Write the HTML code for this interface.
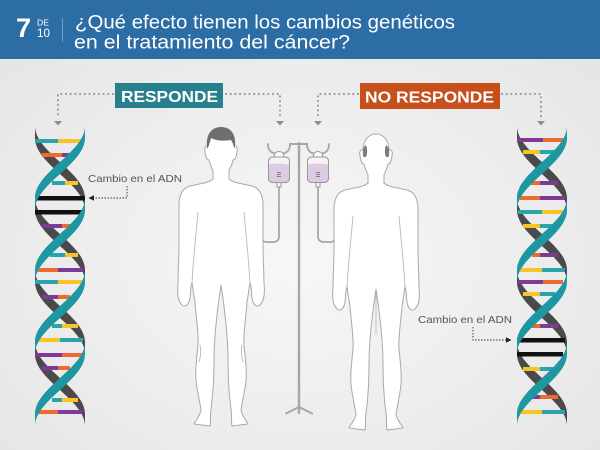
<!DOCTYPE html>
<html>
<head>
<meta charset="utf-8">
<style>
html,body{margin:0;padding:0;width:600px;height:450px;overflow:hidden;background:#ececec}
svg{display:block}
</style>
</head>
<body>
<svg width="600" height="450" viewBox="0 0 600 450">
  <defs>
    <radialGradient id="bg" cx="50%" cy="58%" r="65%">
      <stop offset="0" stop-color="#f7f7f7"/>
      <stop offset="1" stop-color="#e6e6e6"/>
    </radialGradient>
  </defs>

  <!-- background -->
  <rect x="0" y="0" width="600" height="450" fill="url(#bg)"/>

  <!-- header -->
  <rect x="0" y="0" width="600" height="59" fill="#2c6da6"/>
  <text x="16" y="37" font-family="Liberation Sans, sans-serif" font-weight="bold" font-size="27" fill="#fff">7</text>
  <text x="37" y="25.5" font-family="Liberation Sans, sans-serif" font-size="8.5" fill="#fff" textLength="12" lengthAdjust="spacingAndGlyphs">DE</text>
  <text x="37" y="37" font-family="Liberation Sans, sans-serif" font-size="12" fill="#fff" textLength="13" lengthAdjust="spacingAndGlyphs">10</text>
  <line x1="62.5" y1="18" x2="62.5" y2="42" stroke="#6f9dc8" stroke-width="1"/>
  <text x="75" y="28.3" font-family="Liberation Sans, sans-serif" font-size="19" fill="#fff" textLength="380" lengthAdjust="spacingAndGlyphs">¿Qué efecto tienen los cambios genéticos</text>
  <text x="74" y="48.3" font-family="Liberation Sans, sans-serif" font-size="19" fill="#fff" textLength="276" lengthAdjust="spacingAndGlyphs">en el tratamiento del cáncer?</text>

  <!-- labels -->
  <rect x="115" y="83" width="108" height="25" fill="#28808e"/>
  <text x="121" y="102" font-family="Liberation Sans, sans-serif" font-weight="bold" font-size="16" fill="#fff" textLength="97" lengthAdjust="spacingAndGlyphs">RESPONDE</text>
  <rect x="360" y="83" width="140" height="26" fill="#c6501b"/>
  <text x="365" y="102.3" font-family="Liberation Sans, sans-serif" font-weight="bold" font-size="16" fill="#fff" textLength="129" lengthAdjust="spacingAndGlyphs">NO RESPONDE</text>

  <!-- dotted connectors -->
  <g fill="none" stroke="#9c9c9c" stroke-width="2.2" stroke-linecap="round" stroke-dasharray="0 4.7">
    <path d="M113 94 L58 94 L58 118"/>
    <path d="M226 94 L280 94 L280 118"/>
    <path d="M358 94 L318 94 L318 118"/>
    <path d="M502 94 L541 94 L541 118"/>
  </g>
  <g fill="#8e8e8e">
    <polygon points="54,121 62,121 58,125.5"/>
    <polygon points="276,121 284,121 280,125.5"/>
    <polygon points="314,121 322,121 318,125.5"/>
    <polygon points="537,121 545,121 541,125.5"/>
  </g>

  <!-- LEFT DNA -->
  <g transform="translate(60,0)">
    <g fill="#4a4a4c">
      <path transform="translate(0,132)" d="M-25 -6 C-25 20.2 25 39.8 25 66 L25 78 C25 51.8 -25 32.2 -25 6 Z"/>
      <path transform="translate(0,204)" d="M-25 -6 C-25 20.2 25 39.8 25 66 L25 78 C25 51.8 -25 32.2 -25 6 Z"/>
      <path transform="translate(0,276)" d="M-25 -6 C-25 20.2 25 39.8 25 66 L25 78 C25 51.8 -25 32.2 -25 6 Z"/>
      <path transform="translate(0,348)" d="M-25 -6 C-25 20.2 25 39.8 25 66 L25 78 C25 51.8 -25 32.2 -25 6 Z"/>
    </g>
    <g>
      <rect x="-25" y="139" width="23" height="4" fill="#2ba3ac"/><rect x="-2" y="139" width="24" height="4" fill="#f7c325"/>
      <rect x="-18" y="153" width="20" height="4" fill="#ef6a2e"/><rect x="2" y="153" width="8" height="4" fill="#7d3b96"/>
      <rect x="-8" y="181" width="13" height="4" fill="#2ba3ac"/><rect x="5" y="181" width="13" height="4" fill="#f7c325"/>
      <rect x="-23" y="196" width="48" height="4.5" fill="#111"/>
      <rect x="-25" y="210" width="47" height="4.5" fill="#111"/>
      <rect x="-18" y="224" width="20" height="4" fill="#7d3b96"/><rect x="2" y="224" width="10" height="4" fill="#ef6a2e"/>
      <rect x="-10" y="253" width="15" height="4" fill="#2ba3ac"/><rect x="5" y="253" width="13" height="4" fill="#f7c325"/>
      <rect x="-22" y="268" width="20" height="4" fill="#ef6a2e"/><rect x="-2" y="268" width="25" height="4" fill="#7d3b96"/>
      <rect x="-25" y="280" width="23" height="4" fill="#2ba3ac"/><rect x="-2" y="280" width="24" height="4" fill="#f7c325"/>
      <rect x="-18" y="295" width="16" height="4" fill="#7d3b96"/><rect x="-2" y="295" width="12" height="4" fill="#ef6a2e"/>
      <rect x="-8" y="324" width="10" height="4" fill="#2ba3ac"/><rect x="2" y="324" width="16" height="4" fill="#f7c325"/>
      <rect x="-22" y="338" width="22" height="4" fill="#f7c325"/><rect x="0" y="338" width="23" height="4" fill="#2ba3ac"/>
      <rect x="-25" y="353" width="27" height="4" fill="#7d3b96"/><rect x="2" y="353" width="21" height="4" fill="#ef6a2e"/>
      <rect x="-18" y="366" width="16" height="4" fill="#7d3b96"/><rect x="-2" y="366" width="12" height="4" fill="#ef6a2e"/>
      <rect x="-8" y="398" width="10" height="4" fill="#2ba3ac"/><rect x="2" y="398" width="16" height="4" fill="#f7c325"/>
      <rect x="-22" y="410" width="20" height="4" fill="#ef6a2e"/><rect x="-2" y="410" width="25" height="4" fill="#7d3b96"/>
    </g>
    <g fill="#1f97a2">
      <path transform="translate(0,132)" d="M25 -6 C25 20.2 -25 39.8 -25 66 L-25 78 C-25 51.8 25 32.2 25 6 Z"/>
      <path transform="translate(0,204)" d="M25 -6 C25 20.2 -25 39.8 -25 66 L-25 78 C-25 51.8 25 32.2 25 6 Z"/>
      <path transform="translate(0,276)" d="M25 -6 C25 20.2 -25 39.8 -25 66 L-25 78 C-25 51.8 25 32.2 25 6 Z"/>
      <path transform="translate(0,348)" d="M25 -6 C25 20.2 -25 39.8 -25 66 L-25 78 C-25 51.8 25 32.2 25 6 Z"/>
    </g>
  </g>

  <!-- RIGHT DNA -->
  <g transform="translate(542,0)">
    <g fill="#4a4a4c">
      <path transform="translate(0,132)" d="M-25 -6 C-25 20.2 25 39.8 25 66 L25 78 C25 51.8 -25 32.2 -25 6 Z"/>
      <path transform="translate(0,204)" d="M-25 -6 C-25 20.2 25 39.8 25 66 L25 78 C25 51.8 -25 32.2 -25 6 Z"/>
      <path transform="translate(0,276)" d="M-25 -6 C-25 20.2 25 39.8 25 66 L25 78 C25 51.8 -25 32.2 -25 6 Z"/>
      <path transform="translate(0,348)" d="M-25 -6 C-25 20.2 25 39.8 25 66 L25 78 C25 51.8 -25 32.2 -25 6 Z"/>
    </g>
    <g>
      <rect x="-25" y="138" width="26" height="4" fill="#7d3b96"/><rect x="1" y="138" width="20" height="4" fill="#ef6a2e"/>
      <rect x="-19" y="150" width="17" height="4" fill="#f7c325"/><rect x="-2" y="150" width="15" height="4" fill="#2ba3ac"/>
      <rect x="-12" y="181" width="10" height="4" fill="#ef6a2e"/><rect x="-2" y="181" width="18" height="4" fill="#7d3b96"/>
      <rect x="-22" y="196" width="20" height="4" fill="#ef6a2e"/><rect x="-2" y="196" width="25" height="4" fill="#7d3b96"/>
      <rect x="-24" y="210" width="24" height="4" fill="#2ba3ac"/><rect x="0" y="210" width="21" height="4" fill="#f7c325"/>
      <rect x="-19" y="224" width="17" height="4" fill="#f7c325"/><rect x="-2" y="224" width="15" height="4" fill="#2ba3ac"/>
      <rect x="-10" y="253" width="8" height="4" fill="#ef6a2e"/><rect x="-2" y="253" width="18" height="4" fill="#7d3b96"/>
      <rect x="-22" y="268" width="22" height="4" fill="#f7c325"/><rect x="0" y="268" width="23" height="4" fill="#2ba3ac"/>
      <rect x="-24" y="280" width="25" height="4" fill="#7d3b96"/><rect x="1" y="280" width="20" height="4" fill="#ef6a2e"/>
      <rect x="-19" y="292" width="17" height="4" fill="#f7c325"/><rect x="-2" y="292" width="15" height="4" fill="#2ba3ac"/>
      <rect x="-12" y="324" width="10" height="4" fill="#ef6a2e"/><rect x="-2" y="324" width="18" height="4" fill="#7d3b96"/>
      <rect x="-25" y="338" width="48" height="4.5" fill="#111"/>
      <rect x="-25" y="352" width="46" height="4.5" fill="#111"/>
      <rect x="-19" y="367" width="17" height="4" fill="#f7c325"/><rect x="-2" y="367" width="15" height="4" fill="#2ba3ac"/>
      <rect x="-12" y="395" width="10" height="4" fill="#7d3b96"/><rect x="-2" y="395" width="18" height="4" fill="#ef6a2e"/>
      <rect x="-22" y="410" width="22" height="4" fill="#f7c325"/><rect x="0" y="410" width="23" height="4" fill="#2ba3ac"/>
    </g>
    <g fill="#1f97a2">
      <path transform="translate(0,132)" d="M25 -6 C25 20.2 -25 39.8 -25 66 L-25 78 C-25 51.8 25 32.2 25 6 Z"/>
      <path transform="translate(0,204)" d="M25 -6 C25 20.2 -25 39.8 -25 66 L-25 78 C-25 51.8 25 32.2 25 6 Z"/>
      <path transform="translate(0,276)" d="M25 -6 C25 20.2 -25 39.8 -25 66 L-25 78 C-25 51.8 25 32.2 25 6 Z"/>
      <path transform="translate(0,348)" d="M25 -6 C25 20.2 -25 39.8 -25 66 L-25 78 C-25 51.8 25 32.2 25 6 Z"/>
    </g>
  </g>

  <!-- "Cambio en el ADN" annotations -->
  <text x="88" y="182" font-family="Liberation Sans, sans-serif" font-size="10.5" fill="#555" textLength="94" lengthAdjust="spacingAndGlyphs">Cambio en el ADN</text>
  <path d="M127 186 L127 198 L93 198" fill="none" stroke="#333" stroke-width="0.9" stroke-dasharray="1.5 1.5"/>
  <polygon points="88.5,198 94,195.3 94,200.7" fill="#222"/>

  <text x="418" y="323" font-family="Liberation Sans, sans-serif" font-size="10.5" fill="#555" textLength="94" lengthAdjust="spacingAndGlyphs">Cambio en el ADN</text>
  <path d="M473 327 L473 340 L506 340" fill="none" stroke="#333" stroke-width="0.9" stroke-dasharray="1.5 1.5"/>
  <polygon points="511.5,340 506,337.3 506,342.7" fill="#222"/>

  <!-- IV stand -->
  <g fill="none" stroke="#a6a6a6" stroke-linecap="round">
    <line x1="299" y1="143" x2="299" y2="413" stroke-width="2.4"/>
    <path d="M286 413.5 L299 407 L312 413.5" stroke-width="2"/>
    <path d="M290 144 L307 144" stroke-width="2"/>
    <path d="M268 144 C268 152 273 154 279 154 C285 154 290 152 290 144" stroke-width="1.8"/>
    <path d="M307 144 C307 152 312 154 318 154 C324 154 329 152 329 144" stroke-width="1.8"/>
  </g>
  <!-- tubes -->
  <g fill="none" stroke="#9a9a9a" stroke-width="1.5">
    <path d="M279 187 L279 236 Q279 242 273 242 L266 242 Q263 242 262 238"/>
    <path d="M318 187 L318 236 Q318 242 324 242 L331 242 Q334 242 335 238"/>
  </g>
  <!-- bags -->
  <g stroke="#9a9a9a" stroke-width="1">
    <path d="M274 157 L275 153 Q279 150 283 153 L284 157 Z" fill="#fafafa"/>
    <rect x="268.5" y="157" width="21" height="25.5" rx="4" fill="#f6f3f7"/>
    <path d="M269 164.5 Q279 162.5 289 164.5 L289 179 Q289 182 286 182 L272 182 Q269 182 269 179 Z" fill="#dccbe3" stroke="none"/>
    <rect x="268.5" y="157" width="21" height="25.5" rx="4" fill="none"/>
    <rect x="277" y="182.5" width="4" height="4.5" fill="#f6f6f6"/>
    <path d="M313 157 L314 153 Q318 150 322 153 L323 157 Z" fill="#fafafa"/>
    <rect x="307.5" y="157" width="21" height="25.5" rx="4" fill="#f6f3f7"/>
    <path d="M308 164.5 Q318 162.5 328 164.5 L328 179 Q328 182 325 182 L311 182 Q308 182 308 179 Z" fill="#dccbe3" stroke="none"/>
    <rect x="307.5" y="157" width="21" height="25.5" rx="4" fill="none"/>
    <rect x="316" y="182.5" width="4" height="4.5" fill="#f6f6f6"/>
  </g>
  <g stroke="#6d6d6d" stroke-width="0.8">
    <line x1="277" y1="172.5" x2="281" y2="172.5"/><line x1="277" y1="174.5" x2="281" y2="174.5"/><line x1="277" y1="176.5" x2="281" y2="176.5"/>
    <line x1="316" y1="172.5" x2="320" y2="172.5"/><line x1="316" y1="174.5" x2="320" y2="174.5"/><line x1="316" y1="176.5" x2="320" y2="176.5"/>
  </g>

  <!-- LEFT MAN -->
  <g id="man">
    <path fill="#fff" stroke="#a9a9a9" stroke-width="1" stroke-linejoin="round"
      d="M221 130 C228 130 234 136 234 146 C236 145 238 147 237 152 C236 158 235 160 233 160 C232 165 230 168 229 171 L229 179 C233 183 244 184 252 186 C259 188 263 194 263 205 L263 245 C263 260 264 272 264 284 C265 293 264 301 260 305 C256 308 253 304 252 298 C251 292 252 287 250 283 C249 290 248 296 247 302 C246 318 243 333 244 345 C245 357 247 367 246 380 C245 392 242 402 241 410 C242 416 246 420 248 424 L232 426 C231 420 232 414 231 409 C229 394 228 376 228 360 C228 340 225 310 221 285 C217 310 214 340 214 360 C214 376 213 394 211 409 C210 414 211 420 210 426 L194 424 C196 420 200 416 201 410 C200 402 197 392 196 380 C195 367 197 357 198 345 C199 333 196 318 195 302 C194 296 193 290 192 283 C190 287 191 292 190 298 C189 304 186 308 182 305 C178 301 177 293 178 284 C178 272 179 260 179 245 L179 205 C179 194 183 188 190 186 C198 184 209 183 213 179 L213 171 C212 168 210 165 209 160 C207 160 206 158 205 152 C204 147 206 145 208 146 C208 136 214 130 221 130 Z"/>
    <g fill="none" stroke="#b8b8b8" stroke-width="0.9">
      <path d="M198 212 C196 235 193 262 192 283"/>
      <path d="M244 212 C246 235 249 262 250 283"/>
      <path d="M200 345 C201 350 201 356 199 362"/>
      <path d="M242 345 C241 350 241 356 243 362"/>
    </g>
  </g>
  <path fill="#6e6e6e" d="M207.5 149 C205 137 210 127 221 127 C232 127 237 136 234.5 149 C233.5 145 232.5 142 231 140 C225 141 216 141 211 138 C210 142 209 145 207.5 149 Z"/>

  <!-- RIGHT MAN (bald) -->
  <g transform="translate(155,4)">
    <path fill="#fff" stroke="#a9a9a9" stroke-width="1" stroke-linejoin="round"
      d="M221 130 C228 130 234 136 234 146 C236 145 238 147 237 152 C236 158 235 160 233 160 C232 165 230 168 229 171 L229 179 C233 183 244 184 252 186 C259 188 263 194 263 205 L263 245 C263 260 264 272 264 284 C265 293 264 301 260 305 C256 308 253 304 252 298 C251 292 252 287 250 283 C249 290 248 296 247 302 C246 318 243 333 244 345 C245 357 247 367 246 380 C245 392 242 402 241 410 C242 416 246 420 248 424 L232 426 C231 420 232 414 231 409 C229 394 228 376 228 360 C228 340 225 310 221 285 C217 310 214 340 214 360 C214 376 213 394 211 409 C210 414 211 420 210 426 L194 424 C196 420 200 416 201 410 C200 402 197 392 196 380 C195 367 197 357 198 345 C199 333 196 318 195 302 C194 296 193 290 192 283 C190 287 191 292 190 298 C189 304 186 308 182 305 C178 301 177 293 178 284 C178 272 179 260 179 245 L179 205 C179 194 183 188 190 186 C198 184 209 183 213 179 L213 171 C212 168 210 165 209 160 C207 160 206 158 205 152 C204 147 206 145 208 146 C208 136 214 130 221 130 Z"/>
    <g fill="none" stroke="#b8b8b8" stroke-width="0.9">
      <path d="M198 212 C196 235 193 262 192 283"/>
      <path d="M244 212 C246 235 249 262 250 283"/>
      <path d="M221 290 L221 330"/>
    </g>
    <path fill="#7a7a7a" d="M208.5 153 C207 148 208 143 211 141 C212.5 145 212.5 149 211 153 Z"/>
    <path fill="#7a7a7a" d="M233.5 153 C235 148 234 143 231 141 C229.5 145 229.5 149 231 153 Z"/>
  </g>
</svg>
</body>
</html>
